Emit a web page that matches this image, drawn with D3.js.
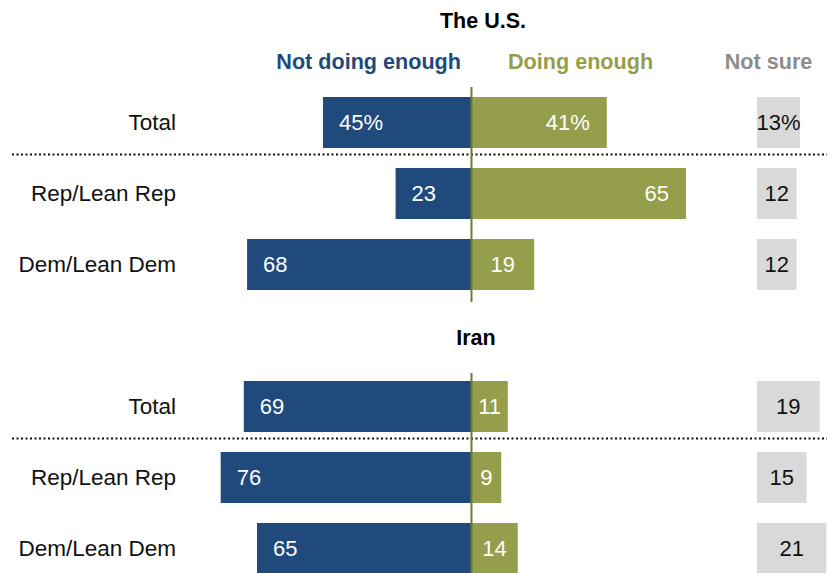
<!DOCTYPE html>
<html>
<head>
<meta charset="utf-8">
<script src="https://cdn.jsdelivr.net/npm/d3@7"></script>
<style>
  html, body { margin: 0; padding: 0; background: #fff; }
  svg { display: block; }
  text { font-family: "Liberation Sans", Arial, sans-serif; }
</style>
</head>
<body>
<svg id="chart" width="827" height="573"></svg>
<script>
// ---- Data ----
const groups = ["The U.S.", "Iran"];
const categories = ["Total", "Rep/Lean Rep", "Dem/Lean Dem"];
const columns = ["Not doing enough", "Doing enough", "Not sure"];
const notDoingEnough = [[45, 23, 68], [69, 76, 65]];
const doingEnough = [[41, 65, 19], [11, 9, 14]];
const notSure = [[13, 12, 12], [19, 15, 21]];

// ---- Styles ----
const BLUE = "#204a7c", OLIVE = "#959e4a", AXIS = "#6e7b2c", GRAY = "#d9d9d9", GRAYTXT = "#8c8c8c";

const svg = d3.select("#chart");
const x = d3.scaleLinear().domain([0, 100]).range([0, 330]);
const x0 = 471.5;          // diverging centre
const xNS = 757;           // not-sure column start
const labelRight = 176;
const y = d3.scalePoint().domain(categories).range([122.5, 264.5]);
const groupOffset = d3.scaleOrdinal().domain(groups).range([0, 284]);
const barH = 51;
const titleY = { "The U.S.": 28, "Iran": 345 };
const titleX = { "The U.S.": 483, "Iran": 476 };
const axisSpan = { "The U.S.": [87, 302], "Iran": [373, 573] };

// column headers
svg.append("text").attr("x", 461).attr("y", 69).attr("text-anchor", "end")
  .attr("font-size", 21.6).attr("font-weight", "bold").attr("fill", BLUE).text(columns[0]);
svg.append("text").attr("x", 508).attr("y", 69).attr("text-anchor", "start")
  .attr("font-size", 21.6).attr("font-weight", "bold").attr("fill", OLIVE).text(columns[1]);
svg.append("text").attr("x", 768.5).attr("y", 69).attr("text-anchor", "middle")
  .attr("font-size", 21.6).attr("font-weight", "bold").attr("fill", GRAYTXT).text(columns[2]);

groups.forEach((g, gi) => {
  const off = groupOffset(g);
  const G = svg.append("g");

  G.append("text").attr("x", titleX[g]).attr("y", titleY[g]).attr("text-anchor", "middle")
    .attr("font-size", 21.5).attr("font-weight", "bold").attr("fill", "#000").text(g);

  const rows = categories.map((c, i) => ({
    cat: c, i,
    nd: notDoingEnough[gi][i], d: doingEnough[gi][i], ns: notSure[gi][i]
  }));

  // dotted separator below Total
  const sepY = off + (y(categories[0]) + y(categories[1])) / 2 - 3.5;
  G.append("line").attr("x1", 12).attr("x2", 827).attr("y1", sepY).attr("y2", sepY)
    .attr("stroke", "#111").attr("stroke-width", 2).attr("stroke-dasharray", "2,2.5");

  const row = G.selectAll("g.row").data(rows).join("g").attr("class", "row")
    .attr("transform", d => `translate(0,${off + y(d.cat)})`);

  // category labels
  row.append("text").attr("x", labelRight).attr("y", 0).attr("dy", "0.35em")
    .attr("text-anchor", "end").attr("font-size", 22.5).attr("fill", "#111").text(d => d.cat);

  const pct = (d, v) => (gi === 0 && d.i === 0) ? v + "%" : String(v);

  // not doing enough
  row.append("rect").attr("x", d => x0 - x(d.nd)).attr("y", -barH / 2)
    .attr("width", d => x(d.nd)).attr("height", barH).attr("fill", BLUE);
  row.append("text").attr("x", d => x0 - x(d.nd) + 16).attr("y", 0).attr("dy", "0.36em")
    .attr("font-size", 22).attr("fill", "#fff").text(d => pct(d, d.nd));

  // doing enough
  row.append("rect").attr("x", x0).attr("y", -barH / 2)
    .attr("width", d => x(d.d)).attr("height", barH).attr("fill", OLIVE);
  row.append("text")
    .attr("x", d => x(d.d) < 70 ? x0 + x(d.d) / 2 : x0 + x(d.d) - 17)
    .attr("text-anchor", d => x(d.d) < 70 ? "middle" : "end")
    .attr("y", 0).attr("dy", "0.36em")
    .attr("font-size", 22).attr("fill", "#fff").text(d => pct(d, d.d));

  // not sure
  row.append("rect").attr("x", xNS).attr("y", -barH / 2)
    .attr("width", d => x(d.ns)).attr("height", barH).attr("fill", GRAY);
  row.append("text").attr("x", d => xNS + x(d.ns) / 2).attr("text-anchor", "middle")
    .attr("y", 0).attr("dy", "0.36em")
    .attr("font-size", 22).attr("fill", "#111").text(d => pct(d, d.ns));

  // centre axis
  G.append("line").attr("x1", x0).attr("x2", x0)
    .attr("y1", axisSpan[g][0]).attr("y2", axisSpan[g][1])
    .attr("stroke", AXIS).attr("stroke-width", 2);
});
</script>
</body>
</html>
